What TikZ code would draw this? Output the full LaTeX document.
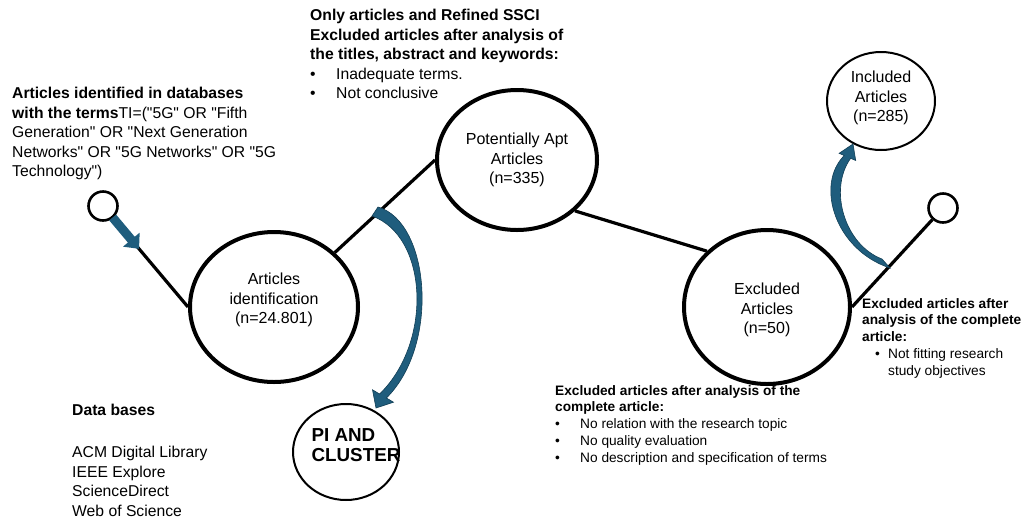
\documentclass[tikz,border=0pt]{standalone}
\usepackage{fontspec}
\setmainfont{Liberation Sans}[Ligatures=TeXOff]
\usetikzlibrary{arrows.meta,shapes.geometric,calc}
\definecolor{tealA}{RGB}{31,93,125}
\definecolor{tealB}{RGB}{18,62,85}
\begin{document}
\begin{tikzpicture}[x=1pt,y=-1pt,
  bigell/.style={ellipse, draw, line width=4pt, inner sep=0pt},
  thinell/.style={ellipse, draw, line width=2pt, inner sep=0pt},
  smalldot/.style={circle, draw, line width=2.6pt, minimum size=29pt, inner sep=0pt},
  conn/.style={line width=3.2pt},
  ctext/.style={align=center, inner sep=0pt, font=\fontsize{16}{19.5}\selectfont},
  ltext/.style={align=left, anchor=north west, inner sep=0pt, font=\fontsize{15.7}{19.5}\selectfont},
  stext/.style={align=left, anchor=north west, inner sep=0pt, font=\fontsize{13.7}{16.8}\selectfont},
  tealfill/.style={fill=tealA, draw=tealB, line width=0.6pt}
]
\useasboundingbox (0,0) rectangle (1023,523);

% circles
\node[smalldot] (sL) at (103,206) {};
\node[smalldot] (sR) at (943,208) {};
\node[bigell, minimum width=168pt, minimum height=150pt] (AI) at (274,307) {};
\node[bigell, minimum width=160pt, minimum height=140pt] (PA) at (517,160) {};
\node[bigell, minimum width=166pt, minimum height=154pt] (EX) at (767,307) {};
\node[thinell, minimum width=108pt, minimum height=98pt] (IN) at (881,101) {};
\node[thinell, minimum width=106pt, minimum height=96pt] (PI) at (346,452) {};

% circle texts
\node[ctext] (AIt) at (274,300) {Articles\\identification\\(n=24.801)};
\node[ctext] (PAt) at (517,160) {Potentially Apt\\Articles\\(n=335)};
\node[ctext] (EXt) at (767,310) {Excluded\\Articles\\(n=50)};
\node[ctext] (INt) at (881,98) {Included\\Articles\\(n=285)};
\node[align=left, inner sep=0pt, font=\fontsize{18.8}{20}\selectfont\bfseries] (PIt) at (356,445) {PI AND\\CLUSTER};

% connectors
\draw[conn] (sL) -- (AI.west);
\draw[conn] (AI.north east) -- (PA.west);
\draw[conn] (PA.south east) -- (EX.north west);
\draw[conn] (EX.east) -- (sR);

% straight block arrow
\draw[tealA, line width=9pt, -{Triangle[width=21pt,length=12pt]}]
  ($(sL)!15pt!(AI.west)$) -- ($(sL)!56pt!(AI.west)$);

% curved arrow to PI AND CLUSTER
\fill[tealfill] (378,207) .. controls (430,222) and (440,345) .. (386.4,398)
  -- (393.5,402.2) -- (376,408) -- (372.5,389.8) -- (379.6,394)
  .. controls (433,342) and (428,236) .. (372,216) -- cycle;

% curved arrow to Included Articles
\fill[tealfill] (890,268) .. controls (835,250) and (815,185) .. (844.2,155.5)
  -- (839.1,153.3) -- (853,144) -- (855.7,160.5) -- (850.6,158.3)
  .. controls (828,190) and (845,245) .. (882,259) -- cycle;

% texts
\node[ltext] (tl) at (12,87) {\textbf{Articles identified in databases}\\
\textbf{with the terms}TI=("5G" OR "Fifth\\
Generation" OR "Next Generation\\
Networks" OR "5G Networks" OR "5G\\
Technology")};

\node[ltext] (tm) at (310,9) {\textbf{Only articles and Refined SSCI}\\
\textbf{Excluded articles after analysis of}\\
\textbf{the titles, abstract and keywords:}\\
\makebox[26pt][l]{•}Inadequate terms.\\
\makebox[26pt][l]{•}Not conclusive};

\node[stext] (bm) at (555,385) {\textbf{Excluded articles after analysis of the}\\
\textbf{complete article:}\\
\makebox[25pt][l]{•}No relation with the research topic\\
\makebox[25pt][l]{•}No quality evaluation\\
\makebox[25pt][l]{•}No description and specification of terms};

\node[stext] (rt) at (862,298) {\textbf{Excluded articles after}\\
\textbf{analysis of the complete}\\
\textbf{article:}\\
\hspace*{13pt}\makebox[13pt][l]{•}Not fitting research\\
\hspace*{26pt}study objectives};

\node[ltext] (dbh) at (72,404) {\textbf{Data bases}};
\node[ltext] (dbl) at (72,446) {ACM Digital Library\\IEEE Explore\\ScienceDirect\\Web of Science};

\end{tikzpicture}
\end{document}
